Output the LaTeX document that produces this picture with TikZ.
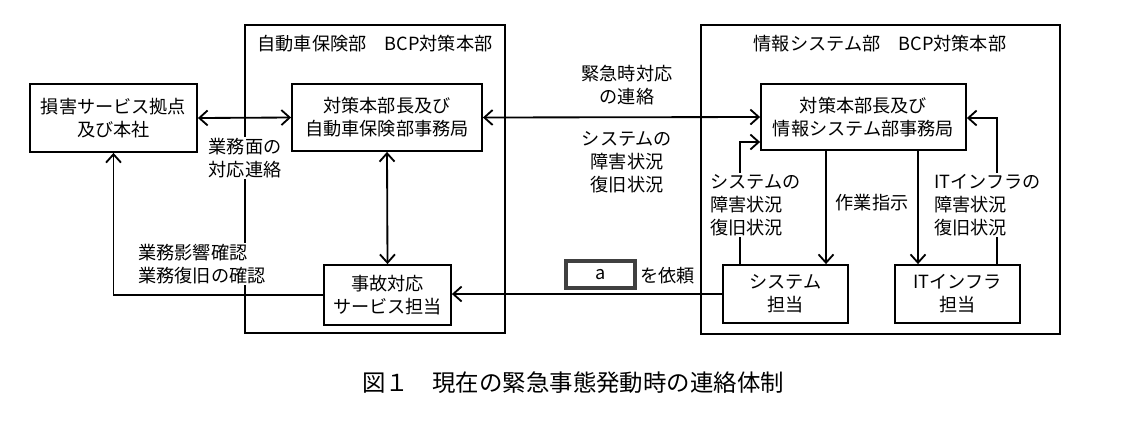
\documentclass[tikz,border=0pt]{standalone}
\usepackage{fontspec}
\setmainfont{Noto Sans CJK JP}
\usetikzlibrary{arrows.meta}
\begin{document}
\begin{tikzpicture}[x=0.03cm,y=-0.03cm,
  every node/.style={font=\fontsize{15.5}{19.5}\selectfont},
  box/.style={draw,line width=0.55mm,inner sep=0pt},
  lbl/.style={fill=white,inner sep=1pt,align=center},
  arr/.style={line width=0.55mm,-{Straight Barb[length=2.5mm,width=4.5mm]}},
  darr/.style={line width=0.55mm,{Straight Barb[length=2.5mm,width=4.5mm]}-{Straight Barb[length=2.5mm,width=4.5mm]}}]
\useasboundingbox (0,0) rectangle (1146,435);

%Rahmen
\draw[line width=0.55mm] (245,25) rectangle (505,333);
\draw[line width=0.55mm] (701,25) rectangle (1060,334);
\node (t1) at (375,44) {自動車保険部\quad BCP対策本部};
\node (t2) at (880,44) {情報システム部\quad BCP対策本部};

%Kaesten
\node[box,minimum width=167*0.03cm,minimum height=68*0.03cm,align=center] (son) at (113.5,118) {損害サービス拠点\\及び本社};
\node[box,minimum width=190*0.03cm,minimum height=67*0.03cm,align=center] (jta) at (387,117.5) {対策本部長及び\\自動車保険部事務局};
\node[box,minimum width=127*0.03cm,minimum height=60*0.03cm,align=center] (jiko) at (387.5,295) {事故対応\\サービス担当};
\node[box,minimum width=205*0.03cm,minimum height=66*0.03cm,align=center] (jha) at (863.5,117) {対策本部長及び\\情報システム部事務局};
\node[box,minimum width=125*0.03cm,minimum height=58*0.03cm,align=center] (sys) at (785.5,294) {システム\\担当};
\node[box,minimum width=125*0.03cm,minimum height=58*0.03cm,align=center] (it) at (957.5,294) {ITインフラ\\担当};
\node[draw=black!75,line width=1mm,minimum width=69*0.03cm,minimum height=27*0.03cm,inner sep=0pt] (a) at (600.5,274.5) {a};
\node[anchor=west,inner sep=0pt] (irai) at (640,276) {を依頼};

%Verbindungen
\draw[darr] (son.east) -- (jta.west);
\draw[darr] (jta.south) -- (jiko.north);
\draw[darr] (jta.east) -- (jha.west);
\draw[arr] (sys.west) -- (sys.west -| jiko.east);
\draw[arr] (jiko.west) -| (son.south);
\draw[arr] (sys.north -| 740,0) |- (jha.south west |- 0,142);
\draw[arr] (jha.south -| 826,0) -- (sys.north -| 826,0);
\draw[arr] (jha.south -| 918,0) -- (it.north -| 918,0);
\draw[arr] (it.north -| 997,0) |- (jha.east |- 0,118);

%Beschriftung
\node[lbl] (n1) at (627,85) {緊急時対応\\の連絡};
\node[lbl] (n2) at (627,162) {システムの\\障害状況\\復旧状況};
\node[lbl] (n3) at (245,158) {業務面の\\対応連絡};
\node[lbl,align=left] (n4) at (202,264) {業務影響確認\\業務復旧の確認};
\node[lbl,align=left,anchor=west] (n5) at (709,205) {システムの\\障害状況\\復旧状況};
\node[lbl] (n6) at (872,203) {作業指示};
\node[lbl,align=left,anchor=west] (n7) at (933,205) {ITインフラの\\障害状況\\復旧状況};
\node[font=\fontsize{20}{24}\selectfont] (cap) at (573,383) {図１\quad 現在の緊急事態発動時の連絡体制};
\end{tikzpicture}
\end{document}
